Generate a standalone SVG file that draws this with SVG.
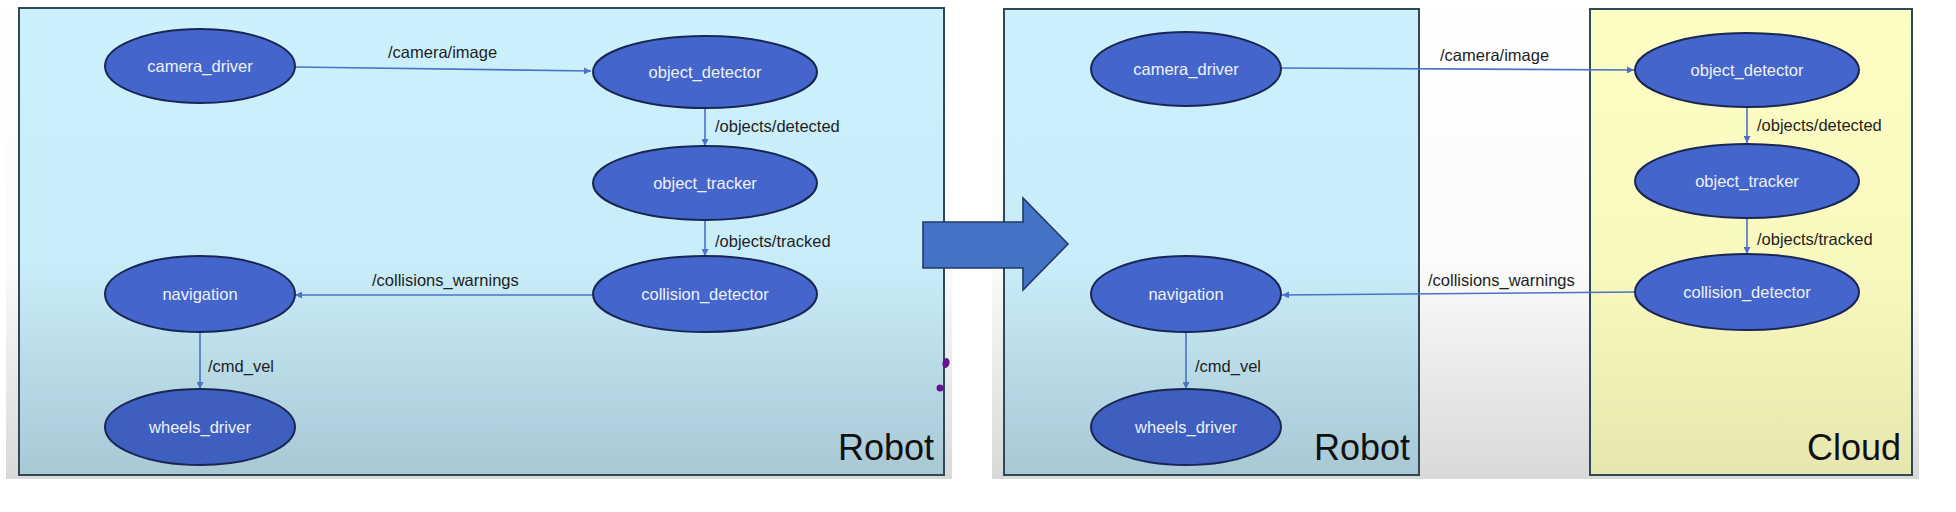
<svg xmlns="http://www.w3.org/2000/svg" width="1956" height="512" viewBox="0 0 1956 512">
  <defs>
    <linearGradient id="frameGrad" x1="0" y1="0" x2="0" y2="1">
      <stop offset="0" stop-color="#ffffff"/>
      <stop offset="0.55" stop-color="#fbfbfb"/>
      <stop offset="1" stop-color="#d9d9d9"/>
    </linearGradient>
    <linearGradient id="robotGrad" x1="0" y1="0" x2="0" y2="1">
      <stop offset="0" stop-color="#cdf1fc"/>
      <stop offset="0.55" stop-color="#c9edf8"/>
      <stop offset="1" stop-color="#a8c8d4"/>
    </linearGradient>
    <linearGradient id="cloudGrad" x1="0" y1="0" x2="0" y2="1">
      <stop offset="0" stop-color="#fdfdc4"/>
      <stop offset="0.55" stop-color="#f9f9bf"/>
      <stop offset="1" stop-color="#e6e6ae"/>
    </linearGradient>
    <marker id="arr" viewBox="0 0 10 10" refX="10" refY="5" markerWidth="7" markerHeight="7" orient="auto" markerUnits="userSpaceOnUse">
      <path d="M0,0 L10,5 L0,10 z" fill="#4a72c8"/>
    </marker>
    <style>
      .panel { stroke: #2f4a55; stroke-width: 2; }
      .node ellipse { fill: #4466cc; stroke: #1a2652; stroke-width: 2; }
      .node text { fill: #eef1f8; font-family: "Liberation Sans", Arial, sans-serif; font-size: 16.5px; text-anchor: middle; }
      .edge { stroke: #4a72c8; stroke-width: 1.6; fill: none; marker-end: url(#arr); }
      .elabel { fill: #1e1e1e; font-family: "Liberation Sans", Arial, sans-serif; font-size: 16.5px; }
      .title { fill: #111111; font-family: "Liberation Sans", Arial, sans-serif; font-size: 36px; text-anchor: end; }
    </style>
  </defs>

  <rect x="0" y="0" width="1956" height="512" fill="#ffffff"/>

  <!-- screenshot frames -->
  <rect x="6" y="4" width="946" height="475" fill="url(#frameGrad)"/>
  <rect x="992" y="4" width="927" height="475" fill="url(#frameGrad)"/>

  <!-- panels -->
  <g id="panel-robot-left">
    <rect class="panel" x="19" y="8" width="925" height="467" fill="url(#robotGrad)"/>
    <text class="title" x="934" y="460">Robot</text>
  </g>
  <g id="panel-robot-right">
    <rect class="panel" x="1004" y="9" width="415" height="466" fill="url(#robotGrad)"/>
    <text class="title" x="1410" y="460">Robot</text>
  </g>
  <g id="panel-cloud">
    <rect class="panel" x="1590" y="9" width="322" height="466" fill="url(#cloudGrad)"/>
    <text class="title" x="1901" y="460">Cloud</text>
  </g>

  <!-- connectors -->
  <g id="connectors">
    <path class="edge" d="M295,67 L591,71"/>
    <path class="edge" d="M705,108 L705,146"/>
    <path class="edge" d="M705,220 L705,256"/>
    <path class="edge" d="M593,295 L295,295"/>
    <path class="edge" d="M200,332 L200,389"/>

    <path class="edge" d="M1281,68 L1634,70"/>
    <path class="edge" d="M1747,107 L1747,143"/>
    <path class="edge" d="M1747,218 L1747,254"/>
    <path class="edge" d="M1635,292 L1282,295"/>
    <path class="edge" d="M1186,332 L1186,389"/>

    <text class="elabel" x="388" y="58">/camera/image</text>
    <text class="elabel" x="715" y="132">/objects/detected</text>
    <text class="elabel" x="715" y="247">/objects/tracked</text>
    <text class="elabel" x="372" y="286">/collisions_warnings</text>
    <text class="elabel" x="208" y="372">/cmd_vel</text>

    <text class="elabel" x="1440" y="61">/camera/image</text>
    <text class="elabel" x="1757" y="131">/objects/detected</text>
    <text class="elabel" x="1757" y="245">/objects/tracked</text>
    <text class="elabel" x="1428" y="286">/collisions_warnings</text>
    <text class="elabel" x="1195" y="372">/cmd_vel</text>
  </g>

  <!-- left diagram nodes -->
  <g id="L-camera_driver" class="node"><ellipse cx="200" cy="66" rx="95" ry="37"/><text x="200" y="72">camera_driver</text></g>
  <g id="L-object_detector" class="node"><ellipse cx="705" cy="72" rx="112" ry="36"/><text x="705" y="78">object_detector</text></g>
  <g id="L-object_tracker" class="node"><ellipse cx="705" cy="183" rx="112" ry="37"/><text x="705" y="189">object_tracker</text></g>
  <g id="L-collision_detector" class="node"><ellipse cx="705" cy="294" rx="112" ry="38"/><text x="705" y="300">collision_detector</text></g>
  <g id="L-navigation" class="node"><ellipse cx="200" cy="294" rx="95" ry="38"/><text x="200" y="300">navigation</text></g>
  <g id="L-wheels_driver" class="node"><ellipse cx="200" cy="427" rx="95" ry="38" style="fill:#3f5fc0"/><text x="200" y="433">wheels_driver</text></g>

  <!-- right diagram nodes -->
  <g id="R-camera_driver" class="node"><ellipse cx="1186" cy="69" rx="95" ry="37"/><text x="1186" y="75">camera_driver</text></g>
  <g id="R-object_detector" class="node"><ellipse cx="1747" cy="70" rx="112" ry="37"/><text x="1747" y="76">object_detector</text></g>
  <g id="R-object_tracker" class="node"><ellipse cx="1747" cy="181" rx="112" ry="37"/><text x="1747" y="187">object_tracker</text></g>
  <g id="R-collision_detector" class="node"><ellipse cx="1747" cy="292" rx="112" ry="38"/><text x="1747" y="298">collision_detector</text></g>
  <g id="R-navigation" class="node"><ellipse cx="1186" cy="294" rx="95" ry="38"/><text x="1186" y="300">navigation</text></g>
  <g id="R-wheels_driver" class="node"><ellipse cx="1186" cy="427" rx="95" ry="38" style="fill:#3f5fc0"/><text x="1186" y="433">wheels_driver</text></g>

  <!-- big transition arrow -->
  <g id="transition-arrow">
    <path d="M923,222 L1023,222 L1023,198 L1068,244 L1023,290 L1023,268 L923,268 Z" fill="#4472c4" stroke="#24386a" stroke-width="1.6" stroke-linejoin="miter"/>
  </g>

  <!-- pen marks -->
  <g id="pen-marks" fill="#6a1190">
    <ellipse cx="946" cy="363" rx="3.5" ry="5" transform="rotate(15 946 363)"/>
    <circle cx="940" cy="388" r="3.5"/>
  </g>
</svg>
